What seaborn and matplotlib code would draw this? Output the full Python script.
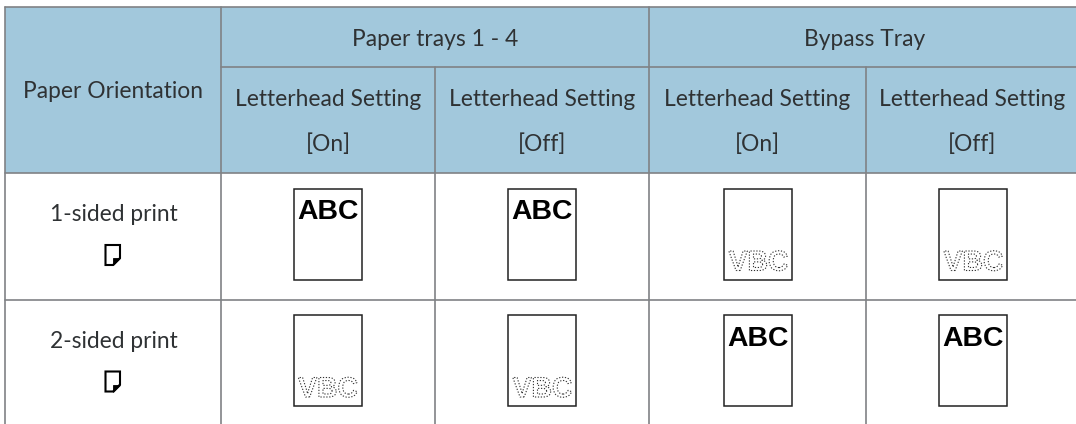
"""
Paper orientation table, letterhead settings
"""

import pandas as pd
import matplotlib
matplotlib.use('Agg')
import matplotlib.pyplot as plt
import matplotlib.patheffects as pe
from matplotlib.patches import Rectangle, Polygon
import seaborn as sns

# Contenu du tableau
corner_label = "Paper Orientation"
tray_labels = ["Paper trays 1 - 4", "Bypass Tray"]
setting_label = "Letterhead Setting"
setting_values = ["[On]", "[Off]", "[On]", "[Off]"]
row_labels = ["1-sided print", "2-sided print"]
sample_text = [
    ["ABC", "ABC", "VBC", "VBC"],
    ["VBC", "VBC", "ABC", "ABC"],
]

# Mise en page (pixels)
col_edges = [5, 221, 435, 649, 866, 1076]
row_edges = [7, 67, 173, 299.5, 424]
sheet_left = [293.5, 508, 724, 939]
sheet_top = [188.5, 315]
sheet_w, sheet_h = 68, 91

HEADER = "#A2C8DC"
GRID = "#808285"
TEXT = "#2f3234"
FONT = "Lato"
FS = 16.4


class DottedOutline(pe.AbstractPathEffect):
    # contour pointillé du texte, sans remplissage
    def draw_path(self, renderer, gc, tpath, affine, rgbFace=None):
        gc0 = renderer.new_gc()
        gc0.copy_properties(gc)
        gc0.set_linewidth(0.8)
        gc0.set_foreground("#333333")
        gc0.set_dashes(0, [0.9, 1.2])
        renderer.draw_path(gc0, tpath, affine, None)
        gc0.restore()


sns.set_theme(style="white")
plt.rcParams['font.family'] = [FONT, 'DejaVu Sans']

fig, ax = plt.subplots(figsize=(10.76, 4.24), dpi=100)
fig.subplots_adjust(left=0, right=1, top=1, bottom=0)
ax.axis("off")

# Fond de l'en-tête
ax.add_patch(Rectangle((col_edges[0], row_edges[0]), col_edges[-1] - col_edges[0],
                       row_edges[2] - row_edges[0], facecolor=HEADER, edgecolor="none", zorder=0))

# Lignes de la grille
segments = [
    (col_edges[0], row_edges[0], col_edges[-1], row_edges[0]),
    (col_edges[1], row_edges[1], col_edges[-1], row_edges[1]),
    (col_edges[0], row_edges[2], col_edges[-1], row_edges[2]),
    (col_edges[0], row_edges[3], col_edges[-1], row_edges[3]),
    (col_edges[0], row_edges[0], col_edges[0], row_edges[4]),
    (col_edges[1], row_edges[0], col_edges[1], row_edges[4]),
    (col_edges[2], row_edges[1], col_edges[2], row_edges[4]),
    (col_edges[3], row_edges[0], col_edges[3], row_edges[4]),
    (col_edges[4], row_edges[1], col_edges[4], row_edges[4]),
]
grid_rows = []
for i, (x0, y0, x1, y1) in enumerate(segments):
    grid_rows.append({"seg": i, "x": x0, "y": y0})
    grid_rows.append({"seg": i, "x": x1, "y": y1})
grid_df = pd.DataFrame(grid_rows)
sns.lineplot(data=grid_df, x="x", y="y", units="seg", estimator=None, sort=False,
             color=GRID, linewidth=1.2, ax=ax, legend=False, zorder=1)
ax.set_xlim(0, 1076)
ax.set_ylim(424, 0)

# En-têtes
text_style = dict(ha="center", va="center", color=TEXT, fontsize=FS)
ax.text((col_edges[0] + col_edges[1]) / 2, 92, corner_label, **text_style)
ax.text((col_edges[1] + col_edges[3]) / 2, 39, tray_labels[0], **text_style)
ax.text(865, 39, tray_labels[1], **text_style)
for j, val in enumerate(setting_values):
    xc = (col_edges[j + 1] + col_edges[j + 2]) / 2
    if j == 3:
        xc = 972.5
    ax.text(xc, 99, setting_label, **text_style)
    ax.text(xc, 144.5, val, **text_style)

# Lignes du tableau
for i, label in enumerate(row_labels):
    top = sheet_top[i]
    ax.text(113.5, top + 26, label, **text_style)
    # petite icone de feuille, coin plié en bas à droite
    ix0, iy0 = 105.5, top + 56.5
    ix1, iy1 = 120, iy0 + 20
    ax.add_patch(Polygon([(ix0, iy0), (ix1, iy0), (ix1, iy1 - 7), (ix1 - 7, iy1), (ix0, iy1)],
                         closed=True, facecolor="white", edgecolor="black", linewidth=1.5, zorder=2))
    ax.add_patch(Polygon([(ix1, iy1 - 7), (ix1 - 7, iy1 - 7), (ix1 - 7, iy1)],
                         closed=True, facecolor="black", edgecolor="black", linewidth=0.6, zorder=2))

    for j, word in enumerate(sample_text[i]):
        left = sheet_left[j]
        ax.add_patch(Rectangle((left, top), sheet_w, sheet_h, facecolor="white",
                               edgecolor="#222222", linewidth=1.1, zorder=2))
        if word == "ABC":
            ax.text(left + sheet_w / 2, top + 23.5, word, ha="center", va="center",
                    family="Liberation Sans", fontweight="bold", fontsize=20.4,
                    color="black", zorder=3)
        else:
            # texte estompé : contour pointillé seulement
            t = ax.text(left + sheet_w / 2 + 0.5, top + 75, word, ha="center", va="center",
                        family="Liberation Sans", fontweight="bold", fontsize=20.4,
                        color="white", zorder=3)
            t.set_path_effects([DottedOutline()])

plt.savefig("out.png", dpi=100)
plt.close()
